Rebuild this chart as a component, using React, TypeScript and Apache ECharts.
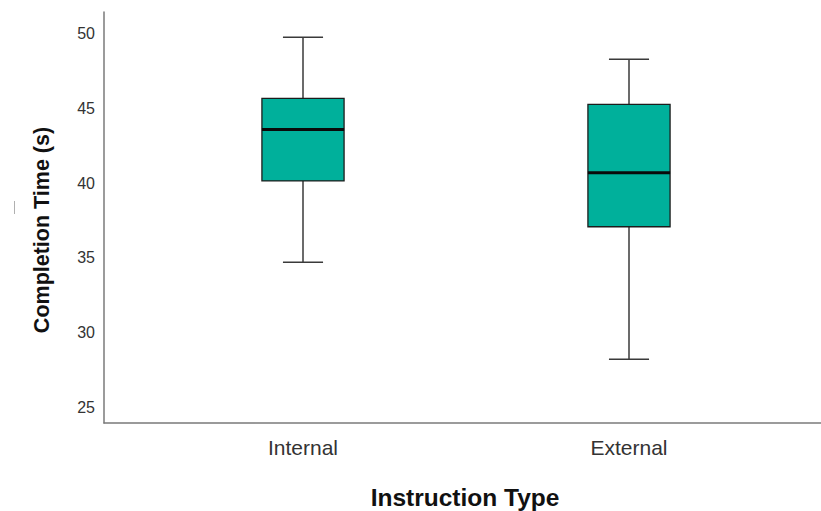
import React, { useEffect, useRef } from "react";
import * as echarts from "echarts";

const categories = ["Internal", "External"];
const whiskerLow = [34.7, 28.2];
const quartile1 = [40.15, 37.08];
const medians = [43.6, 40.7];
const quartile3 = [45.68, 45.28];
const whiskerHigh = [49.78, 48.3];
const yTickLabels = [25, 30, 35, 40, 45, 50];
const yRange = [23.93, 51.47];

const FONT = "'Liberation Sans', Arial, Helvetica, sans-serif";

export default function App() {
  const ref = useRef<HTMLDivElement>(null);
  useEffect(() => {
    if (!ref.current) return;
    const chart = echarts.init(ref.current, undefined, { renderer: "svg" });
    const data = categories.map((_, i) => [
      i,
      whiskerLow[i],
      quartile1[i],
      medians[i],
      quartile3[i],
      whiskerHigh[i],
    ]);
    chart.setOption({
      animation: false,
      backgroundColor: "#ffffff",
      grid: [
        { left: 104, right: 0, top: 12, bottom: 88 },
        { left: 140, right: 29, top: 12, bottom: 88 },
      ],
      xAxis: [
        {
          gridIndex: 0,
          type: "value",
          min: 0,
          max: 1,
          axisLine: { show: true, lineStyle: { color: "#7a7a7a", width: 1.5 } },
          axisTick: { show: false },
          axisLabel: { show: false },
          splitLine: { show: false },
        },
        {
          gridIndex: 1,
          type: "category",
          data: categories,
          axisLine: { show: false },
          axisTick: { show: false },
          splitLine: { show: false },
          axisLabel: {
            margin: 14,
            fontSize: 21,
            color: "#333333",
            fontFamily: FONT,
          },
        },
      ],
      yAxis: [
        {
          gridIndex: 0,
          type: "value",
          min: yRange[0],
          max: yRange[1],
          splitNumber: 5,
          axisLine: { show: true, lineStyle: { color: "#7a7a7a", width: 1.5 } },
          axisTick: { show: false },
          splitLine: { show: false },
          axisLabel: {
            showMinLabel: false,
            showMaxLabel: false,
            margin: 9,
            fontSize: 16,
            color: "#333333",
            fontFamily: FONT,
            formatter: (v: number) =>
              yTickLabels.includes(Math.round(v)) && Math.abs(v - Math.round(v)) < 1e-6
                ? String(Math.round(v))
                : "",
          },
        },
        {
          gridIndex: 1,
          type: "value",
          min: yRange[0],
          max: yRange[1],
          show: false,
          splitLine: { show: false },
        },
      ],
      graphic: [
        {
          type: "text",
          x: 42,
          y: 230,
          rotation: Math.PI / 2,
          style: {
            text: "Completion Time (s)",
            font: `bold 21.5px ${FONT}`,
            fill: "#111111",
            textAlign: "center",
            textVerticalAlign: "middle",
          },
        },
        {
          type: "text",
          x: 465,
          y: 497,
          style: {
            text: "Instruction Type",
            font: `bold 24.5px ${FONT}`,
            fill: "#111111",
            textAlign: "center",
            textVerticalAlign: "middle",
          },
        },
        {
          type: "line",
          shape: { x1: 14.5, y1: 201, x2: 14.5, y2: 214 },
          style: { stroke: "#b0b0b0", lineWidth: 1 },
        },
      ],
      series: [
        {
          type: "custom",
          xAxisIndex: 1,
          yAxisIndex: 1,
          encode: { x: 0, y: [1, 2, 3, 4, 5] },
          data,
          renderItem: (params: any, api: any) => {
            const idx = api.value(0);
            const pLow = api.coord([idx, api.value(1)]);
            const pQ1 = api.coord([idx, api.value(2)]);
            const pMed = api.coord([idx, api.value(3)]);
            const pQ3 = api.coord([idx, api.value(4)]);
            const pHigh = api.coord([idx, api.value(5)]);
            const band = api.size([1, 0])[0];
            const cx = pMed[0];
            const bw = band * 0.252;
            const cw = band * 0.123;
            const whiskerStyle = { stroke: "#3a3a3a", lineWidth: 1.5 };
            return {
              type: "group",
              children: [
                {
                  type: "line",
                  shape: { x1: cx, y1: pQ3[1], x2: cx, y2: pHigh[1] },
                  style: whiskerStyle,
                },
                {
                  type: "line",
                  shape: { x1: cx, y1: pQ1[1], x2: cx, y2: pLow[1] },
                  style: whiskerStyle,
                },
                {
                  type: "line",
                  shape: { x1: cx - cw / 2, y1: pHigh[1], x2: cx + cw / 2, y2: pHigh[1] },
                  style: whiskerStyle,
                },
                {
                  type: "line",
                  shape: { x1: cx - cw / 2, y1: pLow[1], x2: cx + cw / 2, y2: pLow[1] },
                  style: whiskerStyle,
                },
                {
                  type: "rect",
                  shape: { x: cx - bw / 2, y: pQ3[1], width: bw, height: pQ1[1] - pQ3[1] },
                  style: { fill: "#00b09b", stroke: "#1c1c1c", lineWidth: 1.3 },
                },
                {
                  type: "line",
                  shape: { x1: cx - bw / 2, y1: pMed[1], x2: cx + bw / 2, y2: pMed[1] },
                  style: { stroke: "#0a0a0a", lineWidth: 3 },
                },
              ],
            };
          },
        },
      ],
    });
    return () => chart.dispose();
  }, []);
  return (
    <div
      ref={ref}
      style={{ position: "fixed", left: 0, top: 0, width: 821, height: 511 }}
    />
  );
}
